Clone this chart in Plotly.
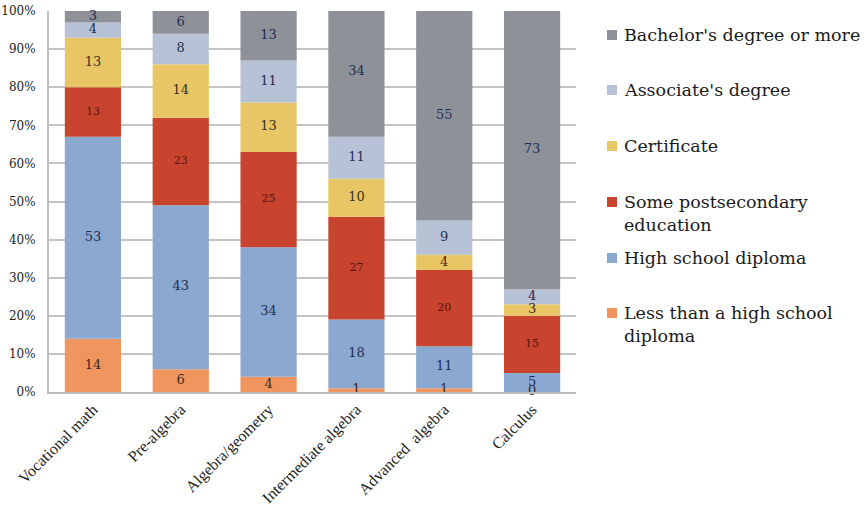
import plotly.graph_objects as go
import numpy as np

# Course taken -> share of students (%) by highest education attained
courses = ["Vocational math", "Pre-algebra", "Algebra/geometry",
           "Intermediate algebra", "Advanced  algebra", "Calculus"]

less_than_hs = [14, 6, 4, 1, 1, 0]
hs_diploma = [53, 43, 34, 18, 11, 5]
some_postsec = [13, 23, 25, 27, 20, 15]
certificate = [13, 14, 13, 10, 4, 3]
associate = [4, 8, 11, 11, 9, 4]
bachelor = [3, 6, 13, 34, 55, 73]

series_names = ["Less than a high school<br>diploma", "High school diploma",
                "Some postsecondary<br>education", "Certificate",
                "Associate's degree", "Bachelor's degree or more"]
series_values = [less_than_hs, hs_diploma, some_postsec, certificate, associate, bachelor]
colors = ["#F1955E", "#8BA8D0", "#C8442E", "#E9C665", "#B8C2D6", "#8E9198"]
label_colors = ["#3A2A24", "#1F2E52", "#5A1208", "#3A3020", "#1F2E52", "#1F2E52"]
label_sizes = [13, 13, 11, 13, 13, 13]

FONT = "DejaVu Serif"
TICK_FONT = "Liberation Serif"

fig = go.Figure()

base = np.zeros(len(courses))
for name, vals, col, lcol, lsz in zip(series_names, series_values, colors, label_colors, label_sizes):
    vals = np.array(vals, dtype=float)
    fig.add_trace(go.Bar(
        x=courses, y=vals, base=base, name=name,
        marker=dict(color=col, line=dict(width=0)),
        width=0.64, showlegend=False, hoverinfo="skip",
    ))
    mids = base + vals / 2
    fig.add_trace(go.Scatter(
        x=courses, y=mids, mode="text",
        text=[str(int(v)) for v in vals],
        textfont=dict(family=FONT, size=lsz, color=lcol),
        showlegend=False, hoverinfo="skip", cliponaxis=False,
    ))
    base = base + vals

# Legend drawn as swatches plus labels to the right of the plot
L, R, T, B = 49, 290, 11, 120
W, H = 866 - L - R, 512 - T - B
def px_x(p):
    return (p - L) / W
def px_y(p):
    return (512 - B - p) / H

legend_rows = [35, 90, 146, 202, 258, 313]  # first-line centre of each entry
shapes = []
annotations = []
for i, (name, col) in enumerate(zip(series_names[::-1], colors[::-1])):
    yc = legend_rows[i]
    shapes.append(dict(type="rect", xref="paper", yref="paper",
                       x0=px_x(607), x1=px_x(617), y0=px_y(yc + 5), y1=px_y(yc - 5),
                       fillcolor=col, line=dict(width=0)))
    annotations.append(dict(xref="paper", yref="paper", x=px_x(622), y=px_y(yc - 12),
                            text=name, showarrow=False, xanchor="left", yanchor="top",
                            align="left",
                            font=dict(family=FONT, size=17.5, color="#1a1a1a")))

fig.update_layout(
    barmode="overlay",
    width=866, height=512,
    margin=dict(l=L, r=R, t=T, b=B, autoexpand=False),
    paper_bgcolor="white", plot_bgcolor="white",
    font=dict(family=FONT, size=12, color="#222222"),
    shapes=shapes, annotations=annotations,
    xaxis=dict(
        tickangle=-45, tickfont=dict(family=TICK_FONT, size=16, color="#222222"),
        showgrid=False, showline=True, linecolor="#BDBDBD", linewidth=2,
        ticks="", range=[-0.5, 5.5], automargin=False,
    ),
    yaxis=dict(
        range=[0, 100], dtick=10, ticksuffix="%",
        tickfont=dict(family=FONT, size=12, color="#222222"),
        showgrid=True, gridcolor="#C4C4C4", gridwidth=2,
        showline=True, linecolor="#BDBDBD", linewidth=2,
        zeroline=False, ticks="", automargin=False, ticklabelstandoff=9,
    ),
)

fig.write_html("out.html")
